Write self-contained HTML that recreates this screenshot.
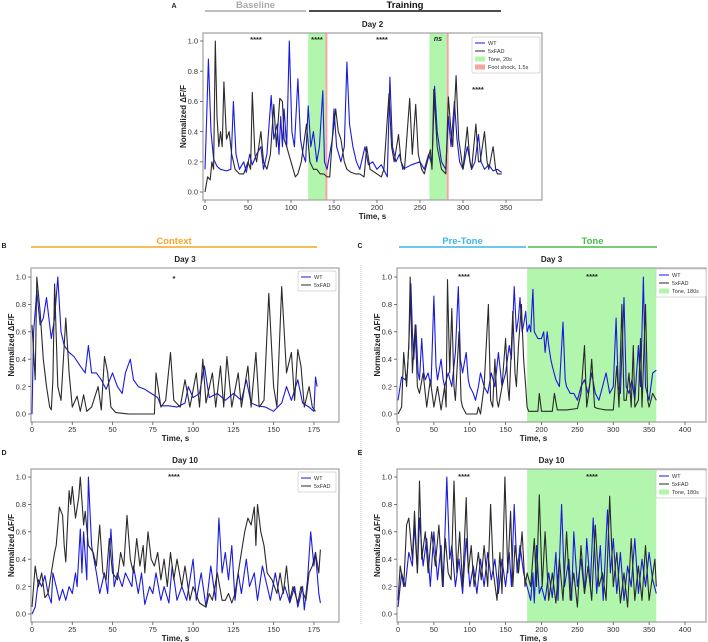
<!DOCTYPE html>
<html><head><meta charset="utf-8">
<style>
body{margin:0;background:#fff;}
svg{display:block;font-family:"Liberation Sans",sans-serif;}
</style></head>
<body>
<svg id="fig" width="708" height="642" viewBox="0 0 708 642"></svg>
<script>
// ---------- DATA ----------
const yTicks=[0,0.2,0.4,0.6,0.8,1.0];
const xTicksA=[0,50,100,150,200,250,300,350];
const xTicksB=[0,25,50,75,100,125,150,175];
const xTicksC=[0,50,100,150,200,250,300,350,400];
const toneA=[[120,140],[261,281]];
const shockA=[140,281];
const toneC=[180,360];
const A_wt=[[0,0.15],[2,0.5],[4,0.88],[7,0.4],[10,0.22],[14,0.17],[18,0.15],[25,0.14],[30,0.15],[33,0.6],[36,0.25],[40,0.15],[45,0.2],[48,0.13],[52,0.25],[55,0.18],[60,0.25],[65,0.3],[68,0.15],[72,0.25],[77,0.64],[80,0.35],[84,0.45],[86,0.25],[88,0.5],[90,0.3],[92,0.55],[95,0.3],[98,1.0],[101,0.4],[104,0.3],[108,0.75],[111,0.35],[114,0.25],[117,0.2],[120,0.57],[123,0.3],[126,0.4],[130,0.2],[133,0.3],[137,0.67],[139,0.2],[142,0.15],[145,0.25],[148,0.35],[150,0.55],[153,0.3],[158,0.2],[162,0.3],[165,0.86],[168,0.45],[172,0.3],[176,0.2],[180,0.15],[186,0.3],[190,0.18],[195,0.2],[200,0.15],[205,0.18],[212,0.1],[215,0.76],[218,0.3],[222,0.2],[226,0.25],[230,0.15],[240,0.18],[250,0.2],[255,0.15],[260,0.25],[264,0.18],[267,0.7],[270,0.4],[275,0.2],[280,0.15],[283,0.5],[286,0.3],[290,0.6],[293,0.35],[296,0.2],[300,0.15],[305,0.3],[310,0.15],[314,0.2],[318,0.38],[321,0.2],[325,0.15],[330,0.18],[335,0.14],[340,0.15],[345,0.13]];
const A_fad=[[0,0.0],[3,0.1],[6,0.08],[8,0.2],[10,0.15],[12,1.0],[14,0.5],[16,0.3],[18,0.4],[20,0.3],[22,0.73],[25,0.35],[28,0.4],[31,0.25],[35,0.15],[40,0.12],[45,0.12],[50,0.2],[53,0.15],[55,0.66],[58,0.25],[60,0.2],[65,0.4],[68,0.2],[72,0.15],[76,0.25],[80,0.58],[83,0.3],[87,0.62],[90,0.6],[92,0.35],[95,0.3],[100,0.2],[105,0.1],[108,0.12],[112,0.2],[118,0.45],[122,0.2],[126,0.15],[130,0.15],[134,0.12],[138,0.12],[142,0.1],[145,0.1],[148,0.35],[152,0.55],[155,0.4],[158,0.35],[162,0.2],[165,0.15],[170,0.13],[175,0.12],[180,0.12],[185,0.1],[188,0.3],[192,0.15],[200,0.12],[205,0.1],[208,0.15],[214,0.65],[217,0.3],[220,0.2],[225,0.38],[228,0.2],[232,0.15],[238,0.62],[241,0.25],[245,0.58],[248,0.25],[252,0.15],[255,0.12],[262,0.28],[264,0.15],[266,0.68],[270,0.3],[275,0.15],[280,0.12],[283,0.63],[286,0.4],[288,0.3],[292,0.77],[295,0.35],[300,0.15],[305,0.43],[308,0.2],[310,0.15],[315,0.45],[318,0.2],[320,0.2],[325,0.4],[328,0.2],[330,0.15],[335,0.3],[338,0.15],[340,0.12],[345,0.12]];
const B_wt=[[0,0],[1,0.6],[3,0.9],[5,0.65],[7,0.7],[9,0.85],[10,0.75],[12,0.55],[14,0.7],[16,1.0],[18,0.6],[20,0.5],[23,0.45],[26,0.42],[30,0.35],[33,0.3],[35,0.5],[37,0.3],[40,0.3],[43,0.25],[46,0.18],[50,0.3],[53,0.2],[56,0.15],[58,0.3],[61,0.4],[63,0.25],[66,0.2],[70,0.18],[74,0.15],[78,0.12],[80,0.06],[85,0.06],[90,0.05],[95,0.08],[97,0.2],[100,0.12],[104,0.15],[107,0.35],[110,0.12],[115,0.15],[120,0.1],[125,0.15],[130,0.1],[133,0.25],[136,0.08],[140,0.06],[145,0.05],[150,0.02],[155,0.08],[158,0.2],[161,0.1],[165,0.25],[168,0.08],[172,0.05],[175,0.02],[176,0.27],[177,0.2]];
const B_fad=[[0,0.65],[2,0.25],[3,1.0],[5,0.75],[7,0.4],[9,0.2],[11,0.05],[12,0.03],[13,0.25],[14,0.95],[16,0.2],[18,0.1],[21,0.7],[23,0.3],[25,0.05],[28,0.13],[30,0.02],[32,0.14],[34,0.02],[37,0.05],[41,0.2],[43,0.03],[45,0.42],[47,0.3],[49,0.05],[52,0.01],[60,0.0],[76,0.0],[77,0.3],[80,0.05],[83,0.1],[86,0.45],[88,0.1],[92,0.05],[95,0.25],[98,0.05],[102,0.3],[104,0.05],[106,0.4],[108,0.08],[112,0.3],[114,0.05],[117,0.35],[119,0.05],[121,0.42],[124,0.05],[128,0.3],[130,0.05],[134,0.35],[136,0.05],[139,0.45],[141,0.05],[144,0.1],[147,0.88],[150,0.2],[152,0.05],[155,0.93],[158,0.3],[161,0.45],[163,0.1],[165,0.47],[167,0.35],[169,0.05],[172,0.2],[174,0.05],[176,0.02]];
const C_wt=[[0,0.1],[5,0.27],[10,0.25],[13,0.3],[15,0.5],[18,0.95],[20,0.6],[22,0.4],[25,0.65],[28,0.3],[30,0.25],[33,0.55],[36,0.3],[38,0.25],[42,0.3],[46,0.2],[50,0.86],[53,0.35],[55,0.25],[60,0.4],[63,0.25],[65,0.2],[70,0.3],[75,0.2],[80,0.45],[84,0.93],[87,0.4],[90,0.3],[95,0.45],[98,0.25],[100,0.2],[105,0.15],[108,0.1],[112,0.2],[115,0.3],[120,0.2],[125,0.15],[130,0.3],[135,0.2],[140,0.45],[145,0.2],[150,0.3],[155,0.5],[158,0.4],[162,0.93],[165,0.6],[168,0.7],[170,0.85],[173,0.6],[175,0.65],[178,0.75],[180,0.6],[183,0.65],[185,0.6],[188,0.91],[190,0.6],[195,0.55],[200,0.55],[203,0.6],[205,0.45],[208,0.6],[210,0.5],[213,0.4],[215,0.35],[220,0.25],[225,0.2],[230,0.67],[233,0.25],[235,0.2],[240,0.15],[245,0.15],[250,0.1],[255,0.2],[260,0.25],[265,0.15],[270,0.3],[275,0.15],[280,0.1],[285,0.2],[290,0.3],[295,0.15],[300,0.2],[304,0.7],[307,0.2],[310,0.15],[315,0.85],[318,0.2],[322,0.15],[326,0.25],[330,0.1],[335,0.5],[338,0.2],[342,1.0],[345,0.2],[350,0.1],[355,0.3],[360,0.32]];
const C_fad=[[0,0.0],[5,0.05],[8,0.45],[12,0.2],[15,0.5],[17,1.0],[20,0.3],[24,0.65],[27,0.2],[30,0.15],[35,0.3],[40,0.05],[45,0.25],[50,0.05],[55,0.2],[60,0.03],[65,0.2],[67,0.05],[69,0.98],[72,0.3],[75,0.77],[78,0.2],[80,0.1],[85,0.6],[88,0.1],[90,0.05],[95,0.0],[110,0.0],[112,0.05],[115,0.0],[120,0.2],[126,0.8],[129,0.1],[132,0.05],[135,0.4],[138,0.1],[140,0.05],[145,0.2],[150,0.55],[153,0.2],[155,0.1],[160,0.75],[163,0.3],[165,0.2],[168,0.5],[172,0.8],[175,0.4],[178,0.2],[180,0.05],[182,0.02],[195,0.02],[197,0.15],[200,0.02],[215,0.02],[218,0.15],[222,0.03],[235,0.03],[250,0.04],[255,0.15],[260,0.5],[263,0.05],[267,0.2],[270,0.4],[274,0.05],[278,0.04],[290,0.03],[300,0.03],[305,0.35],[308,0.05],[312,0.8],[315,0.1],[318,0.1],[322,0.3],[325,0.05],[328,0.5],[330,0.05],[335,0.1],[338,0.55],[340,0.05],[345,0.8],[348,0.1],[350,0.05],[355,0.15],[360,0.1]];
const D_wt=[[0,0],[2,0.05],[4,0.25],[6,0.2],[8,0.28],[10,0.15],[12,0.08],[13,0.3],[15,0.2],[17,0.1],[19,0.18],[21,0.1],[23,0.2],[25,0.15],[27,0.3],[28,0.2],[30,0.62],[31,0.3],[32,0.6],[34,0.25],[35,1.0],[37,0.5],[40,0.3],[42,0.15],[45,0.3],[47,0.15],[49,0.62],[51,0.2],[53,0.3],[56,0.2],[58,0.3],[62,0.2],[63,0.35],[66,0.15],[68,0.3],[70,0.07],[73,0.2],[75,0.15],[77,0.3],[80,0.1],[82,0.2],[85,0.08],[87,0.35],[90,0.1],[93,0.2],[96,0.1],[100,0.4],[102,0.1],[105,0.3],[108,0.05],[111,0.35],[114,0.1],[116,0.7],[118,0.3],[120,0.45],[122,0.25],[124,0.5],[126,0.1],[128,0.3],[130,0.15],[133,0.4],[135,0.2],[138,0.3],[140,0.1],[143,0.35],[146,0.2],[148,0.1],[151,0.3],[154,0.1],[157,0.2],[160,0.08],[163,0.2],[165,0.05],[168,0.2],[169,0.03],[171,0.25],[173,0.6],[175,0.35],[176,0.45],[178,0.15],[179,0.08]];
const D_fad=[[0,0.05],[2,0.35],[4,0.2],[6,0.3],[8,0.12],[10,0.15],[12,0.3],[14,0.45],[15,0.5],[17,0.78],[19,0.72],[20,0.5],[21,0.38],[23,0.9],[24,0.8],[25,0.93],[27,0.7],[29,0.85],[30,1.0],[32,0.65],[33,0.75],[35,0.5],[38,0.45],[40,0.35],[42,0.65],[44,0.3],[46,0.25],[48,0.55],[50,0.3],[53,0.25],[55,0.45],[57,0.35],[59,0.72],[61,0.4],[63,0.3],[65,0.55],[67,0.35],[69,0.5],[70,0.3],[72,0.6],[74,0.4],[76,0.35],[78,0.45],[80,0.25],[82,0.4],[84,0.2],[86,0.45],[88,0.25],[90,0.4],[93,0.2],[95,0.35],[98,0.1],[100,0.2],[104,0.08],[108,0.05],[110,0.15],[112,0.1],[115,0.3],[118,0.1],[120,0.1],[122,0.15],[124,0.08],[126,0.15],[128,0.3],[130,0.45],[132,0.6],[134,0.7],[136,0.65],[138,0.78],[139,0.5],[140,0.8],[142,0.6],[144,0.5],[146,0.3],[149,0.25],[152,0.15],[154,0.3],[156,0.15],[158,0.35],[160,0.1],[162,0.2],[165,0.08],[167,0.2],[170,0.1],[172,0.3],[174,0.35],[176,0.45],[178,0.3],[179,0.47]];
const E_wt=[[0,0.05],[5,0.3],[10,0.2],[15,0.45],[20,0.35],[23,0.65],[27,0.3],[30,0.7],[35,0.35],[40,0.55],[45,0.2],[50,0.6],[55,0.25],[60,0.5],[63,0.2],[68,1.0],[72,0.4],[75,0.5],[80,0.2],[85,0.4],[90,0.15],[95,0.55],[100,0.2],[105,0.35],[110,0.15],[115,0.4],[120,0.2],[125,0.45],[130,0.25],[135,0.4],[140,0.15],[145,0.4],[150,0.2],[155,0.45],[158,0.2],[162,0.8],[166,0.3],[170,0.5],[175,0.3],[180,0.2],[185,0.1],[188,0.3],[190,0.08],[193,0.5],[197,0.15],[200,0.2],[205,0.1],[210,0.3],[215,0.12],[220,0.45],[223,0.1],[228,0.8],[232,0.2],[238,0.4],[242,0.1],[245,0.6],[250,0.2],[255,0.4],[260,0.15],[263,0.55],[268,0.2],[272,0.7],[277,0.15],[282,0.5],[286,0.1],[292,0.76],[296,0.3],[300,0.55],[305,0.15],[310,0.45],[315,0.1],[320,0.35],[325,0.2],[330,0.55],[335,0.15],[340,0.4],[345,0.2],[350,0.45],[355,0.25],[360,0.15]];
const E_fad=[[0,0.1],[3,0.35],[8,0.2],[12,0.65],[15,0.7],[20,0.4],[23,0.75],[27,0.3],[30,0.97],[33,0.4],[38,0.6],[42,0.3],[47,0.6],[52,0.35],[57,0.65],[62,0.2],[66,0.55],[70,0.3],[74,0.25],[78,0.97],[82,0.3],[86,0.6],[90,0.2],[95,0.85],[98,0.3],[102,0.5],[106,0.2],[112,0.45],[116,0.25],[120,0.5],[125,0.2],[129,0.8],[133,0.3],[138,0.1],[142,0.45],[145,0.15],[149,1.0],[153,0.3],[157,0.75],[160,0.2],[163,0.5],[168,0.3],[173,0.6],[177,0.2],[180,0.3],[185,0.2],[190,0.55],[193,0.2],[197,0.87],[201,0.2],[205,0.6],[210,0.1],[215,0.3],[220,0.08],[225,0.4],[230,0.1],[235,0.6],[240,0.1],[245,0.3],[250,0.05],[255,0.5],[260,0.15],[265,0.35],[270,0.1],[275,0.65],[280,0.2],[285,0.3],[290,0.1],[295,0.86],[300,0.2],[305,0.45],[310,0.08],[315,0.3],[320,0.05],[325,0.55],[330,0.1],[335,0.35],[340,0.1],[345,0.5],[350,0.1],[358,0.4],[360,0.2]];

// ---------- DRAW ----------
const svg=document.getElementById('fig');
const NS='http://www.w3.org/2000/svg';
function el(tag,attrs,parent){const e=document.createElementNS(NS,tag);for(const k in attrs)e.setAttribute(k,attrs[k]);(parent||svg).appendChild(e);return e;}
function txt(x,y,s,opt,parent){const e=el('text',Object.assign({x:x,y:y,'font-size':8,fill:'#222','text-anchor':'middle'},opt||{}),parent);e.textContent=s;return e;}

function panel(cfg){
  const g=el('g',{});
  
  
  const sx=t=>cfg.x0+cfg.kx*t, sy=v=>cfg.y0-cfg.ky*v;
  (cfg.tones||[]).forEach((tn,i)=>{
    const r=el('rect',{x:sx(tn[0]),y:cfg.top,width:sx(tn[1])-sx(tn[0]),height:cfg.bot-cfg.top,fill:'#b2f5ac'},g);
    
    
  });
  (cfg.shocks||[]).forEach(s=>{
    const r=el('rect',{x:sx(s),y:cfg.top,width:Math.max(2,cfg.kx*1.5),height:cfg.bot-cfg.top,fill:'#f6a3a3'},g);
    
    
  });
  cfg.series.forEach(s=>{
    const p=el('polyline',{points:s.data.map(d=>sx(d[0]).toFixed(1)+','+sy(d[1]).toFixed(1)).join(' '),fill:'none',stroke:s.color,'stroke-width':1.1,'stroke-linejoin':'round'},g);
    
    
  });
  const f=el('rect',{x:cfg.left,y:cfg.top,width:cfg.right-cfg.left,height:cfg.bot-cfg.top,fill:'none',stroke:'#a0a0a0','stroke-width':1.2},g);
  
  
  cfg.xt.forEach(t=>{
    el('line',{x1:sx(t),x2:sx(t),y1:cfg.bot,y2:cfg.bot+3,stroke:'#555','stroke-width':0.8},g);
    const l=txt(sx(t),cfg.bot+10,String(t),{'font-size':7.5,fill:'#333'},g);
    
    
  });
  yTicks.forEach(v=>{
    el('line',{x1:cfg.left-3,x2:cfg.left,y1:sy(v),y2:sy(v),stroke:'#555','stroke-width':0.8},g);
    const l=txt(cfg.left-5,sy(v)+2.7,v.toFixed(1),{'font-size':7.5,fill:'#333','text-anchor':'end'},g);
    
    
  });
  const xt=txt((cfg.left+cfg.xlabEnd)/2,cfg.bot+19,'Time, s',{'font-size':8,'font-weight':'bold'},g);
  
  
  const yx=cfg.left-17, yy=(cfg.top+cfg.bot)/2;
  const yt=txt(yx,yy,'Normalized ΔF/F',{'font-size':8,'font-weight':'bold',transform:'rotate(-90 '+yx+' '+yy+')'},g);
  
  
  const ti=txt((cfg.left+cfg.right)/2,cfg.top-6,cfg.title,{'font-size':8,'font-weight':'bold'},g);
  
  
  (cfg.stars||[]).forEach(s=>{
    const st=txt(s[0],s[1],s[2],{'font-size':s[2]==='ns'?7:7.5,'font-weight':'bold','font-style':s[2]==='ns'?'italic':'normal'},g);
    
    
  });
  const L=cfg.legend;
  const lg=el('g',{},g);
  
  
  el('rect',{x:L.x,y:L.y,width:L.w,height:L.items.length*8+4,fill:'#fff',stroke:'#ccc','stroke-width':0.7,rx:1.5},lg);
  L.items.forEach((it,i)=>{
    const yy2=L.y+6+i*8;
    if(it.patch){el('rect',{x:L.x+3,y:yy2-2.5,width:10,height:5,fill:it.color},lg);}
    else el('line',{x1:L.x+3,x2:L.x+13,y1:yy2,y2:yy2,stroke:it.color,'stroke-width':1},lg);
    const t=txt(L.x+16,yy2+2,it.label,{'font-size':5.5,'text-anchor':'start',fill:'#333'},lg);
    
    
  });
}
const BLUE='#1a1adf', BLACK='#2a2a2a';
const lg2=[{label:'WT',color:BLUE},{label:'5xFAD',color:BLACK}];
const lg3=[{label:'WT',color:BLUE},{label:'5xFAD',color:BLACK},{label:'Tone, 180s',color:'#b2f5ac',patch:true}];

panel({name:'panel-a-day2',x0:205,kx:0.86,y0:192,ky:151,left:203,right:542,top:33,bot:200,xlabEnd:542,xt:xTicksA,title:'Day 2',
  tones:toneA,shocks:shockA,
  series:[{name:'wt-trace',color:BLUE,data:A_wt},{name:'5xfad-trace',color:BLACK,data:A_fad}],
  stars:[[256,42,'****'],[317,42,'****'],[382,42,'****'],[438,41,'ns'],[478,92,'****']],
  legend:{x:472,y:37,w:68,items:[{label:'WT',color:BLUE},{label:'5xFAD',color:BLACK},{label:'Tone, 20s',color:'#b2f5ac',patch:true},{label:'Foot shock, 1.5s',color:'#f6a3a3',patch:true}]}});
panel({name:'panel-b-day3-context',x0:32,kx:1.611,y0:414,ky:137,left:31,right:339,top:268,bot:422,xlabEnd:320,xt:xTicksB,title:'Day 3',
  series:[{name:'wt-trace',color:BLUE,data:B_wt},{name:'5xfad-trace',color:BLACK,data:B_fad}],
  stars:[[174,281,'*']],legend:{x:298,y:271,w:38,items:lg2}});
panel({name:'panel-c-day3-tone',x0:398,kx:0.7175,y0:414,ky:137,left:397,right:706,top:268,bot:422,xlabEnd:670,xt:xTicksC,title:'Day 3',
  tones:[toneC],
  series:[{name:'wt-trace',color:BLUE,data:C_wt},{name:'5xfad-trace',color:BLACK,data:C_fad}],
  stars:[[464,279,'****'],[592,279,'****']],legend:{x:656,y:269,w:50,items:lg3}});
panel({name:'panel-d-day10-context',x0:32,kx:1.611,y0:614,ky:137,left:31,right:339,top:469,bot:622,xlabEnd:320,xt:xTicksB,title:'Day 10',
  series:[{name:'wt-trace',color:BLUE,data:D_wt},{name:'5xfad-trace',color:BLACK,data:D_fad}],
  stars:[[174,479,'****']],legend:{x:298,y:472,w:38,items:lg2}});
panel({name:'panel-e-day10-tone',x0:398,kx:0.7175,y0:614,ky:137,left:397,right:706,top:469,bot:622,xlabEnd:670,xt:xTicksC,title:'Day 10',
  tones:[toneC],
  series:[{name:'wt-trace',color:BLUE,data:E_wt},{name:'5xfad-trace',color:BLACK,data:E_fad}],
  stars:[[464,479,'****'],[592,479,'****']],legend:{x:656,y:470,w:50,items:lg3}});

function header(x1,x2,y,label,color,name){
  const g=el('g',{});
  
  
  el('line',{x1:x1,x2:x2,y1:y,y2:y,stroke:color,'stroke-width':1.6},g);
  txt((x1+x2)/2,y-3,label,{'font-size':9.5,'font-weight':'bold',fill:color},g);
}
header(205,306,11,'Baseline','#aaaaaa','baseline-header');
header(309,501,11,'Training','#111','training-header');
header(31,317,247,'Context','#f5a623','context-header');
header(399,526,247,'Pre-Tone','#3cb6ea','pretone-header');
header(528,657,247,'Tone','#4cbb4c','tone-header');
[['A',174,8],['B',4,248],['C',360,248],['D',4,455],['E',360,455]].forEach(p=>{
  const t=txt(p[1],p[2],p[0],{'font-size':7,'font-weight':'bold'});
  
  
});
const sep=el('line',{x1:361,x2:361,y1:265,y2:624,stroke:'#ccc','stroke-width':1,'stroke-dasharray':'1,1'});


</script>
</body></html>
